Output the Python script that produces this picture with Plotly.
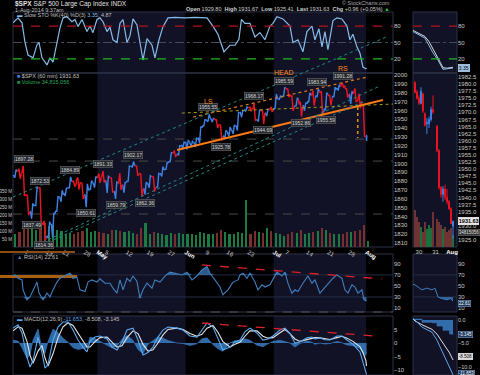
import numpy as np
import plotly.graph_objects as go

W, H = 480, 375
FONT = "Liberation Sans, Arial, sans-serif"

# ---------------- data ----------------
# trading-day index: 0 = 1-Apr-2014 ... 85 = 1-Aug-2014
TICK_DAY = [4, 9, 13, 18, 21, 23, 28, 33, 38, 42, 47, 52, 57, 63, 66, 71, 76, 81, 85]
TICK_TEXT = ["7", "14", "21", "28", "May", "5", "12", "19", "27", "Jun", "9", "16", "23",
             "Jul", "7", "14", "21", "28", "Aug"]

OPEN = [1873.96, 1886.61, 1891.43, 1890.25, 1863.92, 1845.48, 1852.64, 1872.28, 1830.65,
        1818.18, 1831.45, 1846.01, 1861.73, 1865.79, 1872.57, 1879.32, 1881.97, 1877.72,
        1865.00, 1870.78, 1877.10, 1884.39, 1885.30, 1879.45, 1883.69, 1868.53, 1877.39, 1875.27,
        1880.03, 1896.75, 1897.13, 1888.16, 1871.19, 1876.66, 1884.88, 1873.34, 1888.19, 1893.32,
        1902.01, 1911.77, 1910.60, 1920.33, 1923.87, 1923.07, 1923.06, 1928.52, 1942.41,
        1948.97, 1950.34, 1949.37, 1943.35, 1930.80, 1934.84, 1937.15, 1942.73, 1957.50, 1960.45,
        1962.92, 1961.97, 1949.27, 1959.89, 1956.56, 1960.79, 1962.29, 1973.06, 1975.88,
        1984.22, 1976.39, 1965.10, 1966.67, 1965.76, 1969.86, 1977.36, 1976.35, 1979.75, 1961.54,
        1976.93, 1975.65, 1985.32, 1988.07, 1984.60, 1978.25, 1980.03, 1973.21, 1965.14, 1929.80]
HIGH = [1885.84, 1893.17, 1893.80, 1897.28, 1864.04, 1854.95, 1872.43, 1872.53, 1835.07,
        1834.19, 1844.02, 1862.31, 1869.63, 1871.89, 1884.89, 1879.75, 1884.06, 1877.72,
        1877.01, 1880.60, 1885.20, 1888.59, 1891.33, 1885.51, 1883.69, 1878.83, 1889.07, 1878.57,
        1897.13, 1902.17, 1897.13, 1888.16, 1878.28, 1886.00, 1884.88, 1888.80, 1896.33, 1901.26,
        1912.28, 1914.46, 1920.03, 1924.03, 1925.88, 1925.07, 1928.63, 1941.74, 1949.44,
        1955.55, 1950.86, 1949.37, 1943.35, 1937.30, 1941.15, 1943.69, 1957.74, 1959.87, 1963.91,
        1963.74, 1968.17, 1960.83, 1959.89, 1961.47, 1964.24, 1978.58, 1976.67, 1985.59,
        1984.22, 1976.39, 1974.15, 1969.84, 1968.67, 1979.85, 1982.52, 1983.94, 1981.80, 1979.91,
        1976.93, 1986.24, 1989.23, 1991.28, 1984.60, 1981.52, 1984.85, 1978.90, 1965.14, 1931.67]
LOW = [1873.96, 1883.79, 1882.65, 1863.26, 1841.48, 1837.49, 1852.38, 1830.87, 1814.36,
       1815.80, 1816.29, 1846.01, 1856.72, 1863.18, 1872.57, 1873.91, 1870.24, 1859.70,
       1850.61, 1870.78, 1872.69, 1878.04, 1878.50, 1866.77, 1867.72, 1859.79, 1870.05, 1867.02,
       1880.03, 1896.06, 1885.77, 1862.36, 1864.82, 1872.42, 1868.14, 1873.34, 1885.39, 1893.32,
       1902.01, 1907.30, 1909.82, 1916.64, 1915.98, 1918.79, 1918.60, 1922.93, 1942.41,
       1947.16, 1946.87, 1940.08, 1925.78, 1927.69, 1930.91, 1933.55, 1937.22, 1952.26, 1959.17,
       1958.89, 1948.34, 1947.49, 1944.69, 1953.43, 1958.22, 1962.29, 1972.58, 1975.88,
       1974.88, 1959.46, 1965.10, 1952.86, 1959.63, 1969.86, 1965.34, 1975.67, 1955.59, 1960.82,
       1965.77, 1975.65, 1982.44, 1985.79, 1974.37, 1967.31, 1969.95, 1962.42, 1930.67, 1925.41]
CLOSE = [1885.52, 1890.90, 1888.77, 1865.09, 1845.04, 1851.96, 1872.18, 1833.08, 1815.69,
         1830.61, 1842.98, 1862.31, 1864.85, 1871.89, 1879.55, 1875.39, 1878.61, 1863.40,
         1869.43, 1878.33, 1883.95, 1883.68, 1881.14, 1884.66, 1867.72, 1878.21, 1875.63, 1878.48,
         1896.65, 1897.45, 1888.53, 1870.85, 1877.86, 1885.08, 1872.83, 1888.03, 1892.49, 1900.53,
         1911.91, 1909.78, 1920.03, 1923.57, 1924.97, 1924.24, 1927.88, 1940.46, 1949.44,
         1951.27, 1950.79, 1943.89, 1930.11, 1936.16, 1937.78, 1941.99, 1956.98, 1959.48, 1962.87,
         1962.61, 1949.98, 1959.53, 1957.22, 1960.96, 1960.23, 1973.32, 1974.62, 1985.44,
         1977.65, 1963.71, 1972.83, 1964.68, 1967.57, 1977.10, 1973.28, 1981.57, 1958.12, 1978.22,
         1973.63, 1983.53, 1987.01, 1987.98, 1978.34, 1978.91, 1969.95, 1970.07, 1930.67, 1931.63]
VOLUME_M = [90, 85, 95, 120, 130, 120, 110, 140, 150, 130, 140, 110, 100, 80, 90, 85, 95, 100,
            120, 95, 100, 95, 90, 85, 105, 110, 100, 95, 100, 90, 85, 120, 150, 80, 95, 90, 85, 75,
            90, 85, 90, 80, 80, 85, 75, 95, 90, 85, 80, 90, 110, 95, 80, 85, 95, 90, 300,
            85, 100, 95, 90, 120, 100, 90, 80, 70, 85, 95, 90, 110, 85, 90, 95, 100, 120, 110,
            90, 85, 80, 85, 95, 95, 100, 110, 140, 35]
VOLUME_TICKS_M = [50, 100, 150, 200, 250, 300, 350]

STO_DAY = [0.90, 2.10, 3.05, 3.76, 4.48, 5.67, 6.62, 7.10, 7.81, 9.00,
           9.71, 10.43, 11.38, 12.10, 12.81, 13.76, 14.95, 15.67, 16.38, 17.33,
           18.52, 19.24, 19.95, 20.90, 21.62, 22.33, 23.29, 24.00, 24.71, 25.67,
           26.38, 27.10, 28.05, 28.76, 29.48, 30.43, 31.14, 31.86, 32.81, 34.00,
           34.71, 35.67, 36.62, 37.81, 39.48, 41.86, 44.24, 47.10, 48.52, 49.71,
           51.14, 52.57, 53.76, 54.70, 55.30, 56.14, 57.33, 58.52, 59.71, 60.90, 62.10,
           62.81, 63.76, 65.19, 66.86, 67.57, 68.76, 69.95, 70.90, 72.10, 72.81,
           73.76, 74.48, 75.19, 75.90, 77.10, 78.05, 79.24, 80.43, 81.14, 81.86,
           82.81, 83.52, 84.24, 84.95, 85.10]
STO_K = [86, 95, 86, 50, 27, 22, 46, 50, 22, 9,
         22, 14, 50, 77, 95, 97, 88, 92, 79, 92,
         70, 80, 68, 92, 95, 88, 70, 78, 55, 50,
         85, 92, 50, 62, 93, 82, 50, 18, 57, 45,
         22, 55, 79, 95, 96, 95, 96, 95, 80, 65,
         33, 45, 45, 56, 92, 85, 85, 60, 68, 55, 80,
         85, 97, 93, 80, 50, 55, 33, 70, 80, 55,
         75, 42, 70, 37, 90, 95, 93, 80, 55, 65,
         42, 31, 5, 2, 3.35]

RSI_DAY = [0.90, 1.38, 2.10, 3.05, 3.29, 4.24, 4.95, 5.67, 6.62, 7.10, 8.05, 9.00, 9.71, 10.43,
           11.38, 12.10, 13.29, 14.48, 15.19, 16.14, 16.86, 18.05, 18.76, 19.71, 20.90, 21.62,
           22.81, 24.00, 24.71, 25.67, 26.38, 27.10, 28.05, 28.76, 29.48, 30.43, 31.14, 31.86,
           32.81, 34.00, 34.71, 35.90, 37.10, 38.29, 39.95, 41.14, 42.33, 43.52, 44.71, 45.90,
           47.10, 47.81, 49.00, 50.19, 50.90, 52.10, 53.29, 54.48, 54.95, 55.67, 56.62, 57.33,
           58.52, 59.24, 60.19, 60.90, 62.10, 62.81, 63.76, 64.95, 65.67, 66.38, 67.33, 68.05,
           68.76, 69.95, 71.14, 72.10, 72.81, 74.00, 74.71, 75.90, 77.10, 78.05, 79.24, 79.95,
           80.67, 81.62, 82.33, 83.05, 84.00, 84.48, 85.10]
RSI_VAL = [68, 70, 64, 61, 43, 25, 30, 43, 57, 37, 25, 37, 30, 43,
           57, 64, 68, 73, 64, 66, 43, 40, 57, 61, 57, 63,
           55, 55, 46, 37, 61, 43, 64, 58, 68, 58, 28, 43,
           55, 46, 61, 57, 68, 75, 72, 70, 75, 61, 68, 79,
           85, 73, 61, 48, 34, 43, 57, 61, 70, 73, 64, 73,
           57, 43, 52, 48, 52, 61, 75, 68, 75, 55, 37, 43,
           40, 55, 68, 55, 61, 37, 43, 55, 64, 70, 64, 43,
           37, 52, 48, 37, 43, 25, 22.61]

MACD_DAY = [0.90, 2.10, 3.05, 4.24, 4.95, 5.67, 6.86, 7.81, 8.52, 9.24,
            10.43, 11.62, 12.81, 14.00, 15.19, 16.38, 17.57, 18.52, 19.24, 20.43,
            21.62, 23.29, 24.48, 25.67, 26.86, 28.05, 29.48, 30.67, 31.86, 33.05,
            34.24, 35.43, 36.62, 37.81, 39.95, 41.38, 43.05, 44.71, 45.90, 47.10,
            48.52, 49.71, 50.90, 52.57, 53.76, 54.95, 56.14, 57.33, 59.00, 60.43,
            61.62, 62.81, 64.48, 65.67, 66.86, 68.05, 69.24, 70.90, 72.10, 72.81,
            74.00, 75.19, 76.38, 78.05, 79.24, 80.43, 81.86, 83.52, 84.24, 84.95, 85.10]
MACD_LINE = [5.5, 6.7, 3.7, -5.2, -8.9, -6.5, 2.2, -3.7, -9.3, -8.0,
             1.1, 5.9, 7.8, 7.8, 4.8, 1.1, -1.5, -3.3, 0.7, 2.2,
             2.6, 1.5, -1.5, -2.6, 0.4, 4.8, 5.5, 1.1, -4.4, -3.5,
             -1.5, 2.2, 4.8, 5.9, 5.5, 4.8, 2.6, 2.2, 4.8, 7.4,
             5.9, 1.9, -2.6, -1.5, 0.4, 1.1, 4.1, 5.5, 3.7, 1.1,
             1.5, 2.6, 4.8, 5.5, 3.5, 0.0, 0.4, 1.9, 2.2, 1.5,
             1.9, 1.2, 1.1, 2.6, 2.6, 1.1, -0.4, -3.3, -7.4, -11.1, -11.65]
MACD_SIGNAL = [4.5, 6.0, 5.5, 0.5, -4.5, -7.5, -3.0, -1.0, -5.5, -8.5,
               -4.0, 2.0, 6.0, 7.5, 6.5, 3.5, 0.5, -1.5, -1.5, 0.5,
               2.0, 2.2, 0.3, -1.5, -1.0, 2.0, 4.5, 3.5, -0.5, -3.0,
               -2.5, 0.0, 3.0, 5.0, 5.5, 5.0, 3.5, 2.5, 3.2, 5.5,
               6.5, 4.0, 0.5, -1.5, -0.5, 0.3, 2.5, 4.5, 4.5, 2.5,
               1.8, 2.0, 3.8, 5.0, 3.5, 1.5, 0.6, 1.2, 1.9, 2.0,
               1.9, 1.6, 1.3, 2.0, 2.5, 1.8, 0.6, -1.3, -3.5, -6.5, -8.5]

SWING_DAY = [3, 5, 7, 8, 14, 18, 22, 25, 29, 32, 47, 50, 58, 60, 65, 69, 73, 75, 79]
SWING_PRICE = [1897.28, 1837.49, 1872.53, 1814.36, 1884.89, 1850.61, 1891.33, 1859.79, 1902.17,
               1862.36, 1955.55, 1925.78, 1968.17, 1944.69, 1985.59, 1952.86, 1983.94, 1955.59,
               1991.28]
SWING_SIDE = ["H", "L", "H", "L", "H", "L", "H", "L", "H", "L", "H", "L", "H", "L", "H", "L",
              "H", "L", "H"]
PATTERN_TEXT = ["LS", "HEAD", "RS"]
PATTERN_DAY = [47, 65, 79]
PATTERN_PRICE = [1955.55, 1985.59, 1991.28]
MONTH_SHADE = [(21, 42), (63, 85)]

# drawn trend lines (day, price) pairs on the price panel
TRENDLINES = [
    (40.0, 1915.2, 89.0, 1971.7, "#ff7a12", "solid", 2.0),   # neckline
    (43.8, 1952.5, 85.2, 1997.7, "#d9791f", "dot", 1.2),
    (41.1, 1957.0, 91.4, 1967.2, "#a89a1c", "dot", 1.0),
    (0.9, 1862.0, 89.9, 2043.0, "#1b8a8a", "dot", 1.0),
    (8.05, 1811.1, 88.3, 1987.6, "#1b8a8a", "dot", 1.0),
    (6.62, 1805.4, 84.7, 1970.6, "#1b8a8a", "dot", 1.0),
    (83.0, 1963.8, 83.0, 1928.7, "#d98a20", "dot", 1.6),
]
STO_TEAL = (68.0, -12.1, 89.95, 60.5)
RSI_TREND = (45.9, 88.2, 88.8, 62.7)
MACD_TREND = (45.9, 7.4, 87.1, 2.6)
PRICE_DASH_LEVELS = [1927.6, 1902.7, 1842.8]

# mini chart (days from 30-Jul open)
MINI_DAY = [-0.24, -0.12, 0.0, 0.12, 0.24, 0.36, 0.48, 0.61, 0.73, 0.85, 1.09, 1.21, 1.33,
            1.45, 1.58, 1.70, 1.82, 1.94, 2.06]
MINI_O = [1980.5, 1977.2, 1975.0, 1973.2, 1976.5, 1969.5, 1966.0, 1966.0, 1967.5, 1971.0,
          1965.1, 1956.5, 1943.5, 1941.0, 1943.0, 1940.0, 1938.5, 1936.0, 1929.8]
MINI_H = [1981.0, 1978.0, 1976.0, 1978.9, 1977.0, 1970.0, 1968.0, 1968.5, 1972.0, 1976.0,
          1965.5, 1957.0, 1944.0, 1944.0, 1944.5, 1943.0, 1939.0, 1936.5, 1931.67]
MINI_L = [1976.8, 1974.5, 1972.6, 1972.8, 1969.8, 1965.0, 1962.4, 1964.5, 1966.8, 1969.5,
          1956.0, 1942.7, 1939.9, 1938.5, 1939.0, 1937.5, 1935.6, 1930.67, 1925.41]
MINI_C = [1977.0, 1975.0, 1973.2, 1977.5, 1970.5, 1965.5, 1966.5, 1967.5, 1971.0, 1970.1,
          1956.5, 1943.5, 1941.0, 1943.0, 1940.0, 1938.5, 1936.0, 1930.67, 1931.63]
MINI_VOL = [100, 80, 68, 55, 40, 68, 48, 60, 50, 95, 75, 68, 60, 48, 54, 40, 45, 52, 32]
MINI_PRICE_TICKS = [1925.0 + 2.5 * k for k in range(24) if k not in (1, 3)]
MINI_TICK_DAY = [0, 1, 2]
MINI_TICK_TEXT = ["30", "31", "Aug"]
MINI_STO_DAY = [-0.36, -0.24, 0.0, 0.36, 0.6, 0.85, 1.15, 1.3, 1.45, 1.7, 2.06]
MINI_STO_K = [70, 68, 64, 58, 45, 31, 18, 8, 1, 2, 3.35]
MINI_STO_D = [72, 70, 67, 61, 52, 38, 24, 13, 4, 3, 4.87]
MINI_RSI_DAY = [-0.36, -0.24, 0.18, 0.48, 0.79, 0.97, 1.15, 1.4, 1.7, 1.9, 2.06]
MINI_RSI = [53, 52, 43, 46, 43, 46, 30, 27, 25, 27, 22.61]
MINI_RSI_TICKS = [10, 30, 50, 70, 90]
MINI_MACD_DAY = [-0.36, -0.24, 0.18, 0.79, 1.09, 1.45, 1.85, 2.06]
MINI_MACD = [0.3, 0.0, -1.5, -2.6, -4.3, -7.0, -10.0, -11.65]
MINI_SIGNAL = [0.2, -0.2, -1.0, -2.0, -3.0, -4.8, -7.0, -8.5]
MINI_MACD_TICKS = [0, -5, -10]

# ---------------- styling ----------------
BG = "#000000"
SHADE = "#121226"
BORDER = "#2c3346"
UP = "#3d82e6"
DN = "#ec1420"
TXT = "#c8c8c8"
tickfont = dict(size=6, color=TXT, family=FONT)


def pdom(top_px, bot_px):
    return [1 - bot_px / H, 1 - top_px / H]


X_MAIN = [13 / W, 393 / W]
X_MINI = [413 / W, 457 / W]
D_STO, D_PRICE, D_RSI, D_MACD = pdom(12, 73), pdom(73, 247), pdom(254, 312), pdom(316, 375)

fig = go.Figure()

# ---- main volume (base axis y) ----
vol_col = ["#1d7a42" if c >= o else "#7a2f2f" for o, c in zip(OPEN, CLOSE)]
fig.add_trace(go.Bar(x=[i + 0.45 for i in range(len(VOLUME_M))], y=VOLUME_M, width=0.5,
                     marker=dict(color=vol_col, line=dict(width=0)), xaxis="x", yaxis="y",
                     hoverinfo="skip"))

# ---- main price path (O->H/L->L/H->C per day) ----
n = len(OPEN)
ux, uy, dx, dy = [], [], [], []
for i in range(n):
    w = 0.15 if i == n - 1 else 0.85
    xs = [i + 0.05 + w * k / 3 for k in range(4)]
    o, h, l, c = OPEN[i], HIGH[i], LOW[i], CLOSE[i]
    ys = [o, l, h, c] if c >= o else [o, h, l, c]
    if i > 0:
        xs = [i - 0.1] + xs
        ys = [CLOSE[i - 1]] + ys
    if c >= o:
        ux += xs + [None]; uy += ys + [None]
    else:
        dx += xs + [None]; dy += ys + [None]
fig.add_trace(go.Scatter(x=ux, y=uy, mode="lines", line=dict(color=UP, width=1.4),
                         xaxis="x", yaxis="y2", hoverinfo="skip", connectgaps=False))
fig.add_trace(go.Scatter(x=dx, y=dy, mode="lines", line=dict(color=DN, width=1.4),
                         xaxis="x", yaxis="y2", hoverinfo="skip", connectgaps=False))

# ---- STO ----
fig.add_trace(go.Scatter(x=STO_DAY, y=STO_K, mode="lines", line=dict(color="#86bbe8", width=1.2),
                         xaxis="x", yaxis="y3", hoverinfo="skip"))

# ---- RSI ----
rsi = np.array(RSI_VAL, dtype=float)
for base, clipped in ((70, np.maximum(rsi, 70)), (30, np.minimum(rsi, 30))):
    fig.add_trace(go.Scatter(x=RSI_DAY, y=np.full_like(rsi, base), mode="lines",
                             line=dict(width=0), xaxis="x", yaxis="y4", hoverinfo="skip"))
    fig.add_trace(go.Scatter(x=RSI_DAY, y=clipped, mode="lines", line=dict(width=0),
                             fill="tonexty", fillcolor="rgba(60,120,185,0.75)",
                             xaxis="x", yaxis="y4", hoverinfo="skip"))
fig.add_trace(go.Scatter(x=RSI_DAY, y=RSI_VAL, mode="lines", line=dict(color="#3f7fbf", width=1.1),
                         xaxis="x", yaxis="y4", hoverinfo="skip"))

# ---- MACD ----
hist = np.array(MACD_LINE) - np.array(MACD_SIGNAL)
fig.add_trace(go.Scatter(x=MACD_DAY, y=hist, mode="lines", fill="tozeroy",
                         fillcolor="rgba(55,125,195,0.85)", line=dict(color="#3a80c6", width=0.6),
                         xaxis="x", yaxis="y5", hoverinfo="skip"))
fig.add_trace(go.Scatter(x=MACD_DAY, y=MACD_SIGNAL, mode="lines", line=dict(color="#e6e6e6", width=1.1),
                         xaxis="x", yaxis="y5", hoverinfo="skip"))
fig.add_trace(go.Scatter(x=MACD_DAY, y=MACD_LINE, mode="lines", line=dict(color="#5aaaf0", width=1.1),
                         xaxis="x", yaxis="y5", hoverinfo="skip"))

# ---- mini chart ----
mvol_col = ["#1d6e3c" if c >= o else "#6e3434" for o, c in zip(MINI_O, MINI_C)]
fig.add_trace(go.Bar(x=MINI_DAY, y=MINI_VOL, width=0.1, marker=dict(color=mvol_col, line=dict(width=0)),
                     xaxis="x2", yaxis="y6", hoverinfo="skip"))
fig.add_trace(go.Candlestick(x=MINI_DAY, open=MINI_O, high=MINI_H, low=MINI_L, close=MINI_C,
                             increasing=dict(line=dict(color=UP, width=1), fillcolor=UP),
                             decreasing=dict(line=dict(color=DN, width=1), fillcolor=DN),
                             whiskerwidth=0, xaxis="x2", yaxis="y7", hoverinfo="skip"))
fig.add_trace(go.Scatter(x=MINI_STO_DAY, y=MINI_STO_D, mode="lines", line=dict(color="#dddddd", width=1),
                         xaxis="x2", yaxis="y8", hoverinfo="skip"))
fig.add_trace(go.Scatter(x=MINI_STO_DAY, y=MINI_STO_K, mode="lines", line=dict(color="#86bbe8", width=1),
                         xaxis="x2", yaxis="y8", hoverinfo="skip"))
mrsi = np.array(MINI_RSI, dtype=float)
fig.add_trace(go.Scatter(x=MINI_RSI_DAY, y=np.full_like(mrsi, 30), mode="lines", line=dict(width=0),
                         xaxis="x2", yaxis="y9", hoverinfo="skip"))
fig.add_trace(go.Scatter(x=MINI_RSI_DAY, y=np.minimum(mrsi, 30), mode="lines", line=dict(width=0),
                         fill="tonexty", fillcolor="rgba(60,120,185,0.75)", xaxis="x2", yaxis="y9",
                         hoverinfo="skip"))
fig.add_trace(go.Scatter(x=MINI_RSI_DAY, y=MINI_RSI, mode="lines", line=dict(color="#3f7fbf", width=1),
                         xaxis="x2", yaxis="y9", hoverinfo="skip"))
mhist = np.array(MINI_MACD) - np.array(MINI_SIGNAL)
fig.add_trace(go.Scatter(x=MINI_MACD_DAY, y=mhist, mode="lines", line=dict(color="#3a80c6", width=0.5, shape="hv"),
                         fill="tozeroy", fillcolor="rgba(55,125,195,0.85)", xaxis="x2", yaxis="y10",
                         hoverinfo="skip"))
fig.add_trace(go.Scatter(x=MINI_MACD_DAY, y=MINI_SIGNAL, mode="lines", line=dict(color="#dddddd", width=1),
                         xaxis="x2", yaxis="y10", hoverinfo="skip"))
fig.add_trace(go.Scatter(x=MINI_MACD_DAY, y=MINI_MACD, mode="lines", line=dict(color="#5aaaf0", width=1),
                         xaxis="x2", yaxis="y10", hoverinfo="skip"))

# ---------------- shapes ----------------
shapes = []
for a, b in MONTH_SHADE:
    for ya in ["y", "y3", "y4", "y5"]:
        shapes.append(dict(type="rect", xref="x", yref=f"{ya} domain", x0=a, x1=b, y0=0, y1=1,
                           fillcolor=SHADE, line=dict(width=0), layer="below"))
for ya in ["y6", "y8", "y9", "y10"]:
    shapes.append(dict(type="rect", xref="x2 domain", yref=f"{ya} domain", x0=0, x1=1, y0=0, y1=1,
                       fillcolor=SHADE, line=dict(width=0), layer="below"))
for xa, yas in (("x", ["y", "y3", "y4", "y5"]), ("x2", ["y6", "y8", "y9", "y10"])):
    for ya in yas:
        shapes.append(dict(type="rect", xref=f"{xa} domain", yref=f"{ya} domain", x0=0, x1=1, y0=0, y1=1,
                           line=dict(color=BORDER, width=1), fillcolor="rgba(0,0,0,0)", layer="below"))
# STO levels
for ya, xa in (("y3", "x"), ("y8", "x2")):
    shapes.append(dict(type="line", xref=f"{xa} domain", yref=ya, x0=0, x1=1, y0=80, y1=80,
                       line=dict(color="#b3121c", width=1.2, dash="dash")))
    shapes.append(dict(type="line", xref=f"{xa} domain", yref=ya, x0=0, x1=1, y0=20, y1=20,
                       line=dict(color="#1fb81f", width=1.2, dash="dash")))
    shapes.append(dict(type="line", xref=f"{xa} domain", yref=ya, x0=0, x1=1, y0=50, y1=50,
                       line=dict(color="#444a58", width=1, dash="dashdot"), layer="below"))
for ya, xa in (("y4", "x"), ("y9", "x2")):
    for lv in (70, 30):
        shapes.append(dict(type="line", xref=f"{xa} domain", yref=ya, x0=0, x1=1, y0=lv, y1=lv,
                           line=dict(color="#252c44", width=1), layer="below"))
shapes.append(dict(type="line", xref="x domain", yref="y4 domain", x0=0, x1=1, y0=0, y1=0,
                   line=dict(color="#555", width=1, dash="dash")))
for lv in PRICE_DASH_LEVELS:
    shapes.append(dict(type="line", xref="x domain", yref="y2", x0=0, x1=1, y0=lv, y1=lv,
                       line=dict(color="#4a4a4a", width=1, dash="dash"), layer="below"))
for d0, p0, d1, p1, col, dash, wd in TRENDLINES:
    shapes.append(dict(type="line", xref="x", yref="y2", x0=d0, y0=p0, x1=d1, y1=p1,
                       line=dict(color=col, width=wd, dash=dash)))
shapes.append(dict(type="line", xref="x", yref="y3", x0=STO_TEAL[0], y0=STO_TEAL[1], x1=STO_TEAL[2],
                   y1=STO_TEAL[3], line=dict(color="#1b8a8a", width=1, dash="dot")))
shapes.append(dict(type="line", xref="x", yref="y4", x0=RSI_TREND[0], y0=RSI_TREND[1], x1=RSI_TREND[2],
                   y1=RSI_TREND[3], line=dict(color="#e0202a", width=1.3, dash="dash")))
shapes.append(dict(type="line", xref="x", yref="y5", x0=MACD_TREND[0], y0=MACD_TREND[1], x1=MACD_TREND[2],
                   y1=MACD_TREND[3], line=dict(color="#e0202a", width=1.3, dash="dash")))
# orange marker bars at far left
shapes.append(dict(type="rect", xref="paper", yref="paper", x0=0, x1=75 / W, y0=1 - 253 / H, y1=1 - 251 / H,
                   fillcolor="#8a4c12", line=dict(width=0)))
shapes.append(dict(type="rect", xref="paper", yref="paper", x0=0, x1=77 / W, y0=1 - 278 / H, y1=1 - 275 / H,
                   fillcolor="#a8600f", line=dict(width=0), layer="below"))

# ---------------- annotations ----------------
ann = []


def note(px, py, text, size=6, color=TXT, anchor="left", **kw):
    d = dict(x=px / W, y=1 - py / H, xref="paper", yref="paper", text=text, showarrow=False,
             xanchor=anchor, yanchor="middle", font=dict(size=size, color=color, family=FONT))
    d.update(kw)
    return d


ann.append(note(13, 4, "<b>$SPX</b> S&P 500 Large Cap Index INDX", 6.5, "#e0e0e0"))
ann.append(note(13, 10, "1-Aug-2014 9:37am", 5.5, "#bdbdbd"))
ann.append(note(392, 3, "© StockCharts.com", 5.5, "#a8a8a8", "right"))
ann.append(note(392, 9, "<b>Open</b> 1929.80  <b>High</b> 1931.67  <b>Low</b> 1925.41  "
                         "<b>Last</b> 1931.63  <b>Chg</b> +0.96 (+0.05%) "
                         "<span style='color:#22cc22'>▲</span>", 5.5, "#d0d0d0", "right"))
ann.append(note(15, 15, "<span style='color:#86bbe8'>▬</span> Slow STO %K(40) %D(3) "
                          "<span style='color:#86bbe8'>3.35</span>, 4.87", 5.5, "#c0c0c0"))
ann.append(note(15, 76, "<span style='color:#3d82e6'>■</span> $SPX (60 min) 1931.63", 5.5, "#c0c0c0"))
ann.append(note(15, 82, "<span style='color:#1d9a52'>■</span> <span style='color:#2aa85a'>Volume 34,815,056</span>",
                5.5, "#c0c0c0"))
ann.append(note(15, 257, "<span style='color:#3f7fbf'>▲</span> RSI(14) 22.61", 5.5, "#c0c0c0"))
ann.append(note(15, 319, "<span style='color:#5aaaf0'>▬</span> MACD(12,26,9) "
                          "<span style='color:#5aaaf0'>-11.653</span>, -8.508, -3.145", 5.5, "#c0c0c0"))

for d, p, s in zip(SWING_DAY, SWING_PRICE, SWING_SIDE):
    ann.append(dict(x=d + 0.4, y=p, xref="x", yref="y2", text=f"{p:.2f}", showarrow=False,
                    yshift=7 if s == "H" else -6, font=dict(size=5, color="#d4d4d4", family=FONT),
                    bgcolor="#26292f", bordercolor="#707070", borderwidth=0.5, borderpad=0.5))
for t, d, p, sh in zip(PATTERN_TEXT, PATTERN_DAY, PATTERN_PRICE, [13, 15, 14]):
    ann.append(dict(x=d + 0.4, y=p, xref="x", yref="y2", text=t, showarrow=False, yshift=sh,
                    font=dict(size=7, color="#ff8a1a", family=FONT)))

# right-side value boxes for mini chart
box = dict(borderwidth=0.5, borderpad=0.3)
ann.append(note(458, 68, "3.35", 5, "#000", bgcolor="#9cc4e8", bordercolor="#cfe3f5", **box))
ann.append(note(458, 221, "<b>1931.63</b>", 5.5, "#000", bgcolor="#e8e8e8", bordercolor="#ffffff", **box))
ann.append(note(458, 233, "34815056", 4.5, "#ddd", bgcolor="#333", bordercolor="#777", **box))
ann.append(note(458, 303, "22.61", 4.5, "#fff", bgcolor="#1f3a5c", bordercolor="#88aadd", **box))
ann.append(note(458, 334, "-3.145", 4.5, "#fff", bgcolor="#1f3a5c", bordercolor="#88aadd", **box))
ann.append(note(458, 356, "-8.508", 4.5, "#000", bgcolor="#dddddd", bordercolor="#fff", **box))
ann.append(note(458, 373, "-11.653", 4.5, "#fff", bgcolor="#1f3a5c", bordercolor="#88aadd", **box))

# ---------------- axes ----------------
common = dict(showgrid=False, zeroline=False, showline=False, ticks="", automargin=False,
              fixedrange=True, tickfont=tickfont)


def bold_month(t):
    return f"<span style='color:#ffffff'><b>{t}</b></span>" if t.isalpha() else t


vol_axis = dict(common)
vol_axis["tickfont"] = dict(size=4.5, color=TXT, family=FONT)
mini_macd_axis = dict(common)
mini_macd_axis["tickfont"] = dict(size=5.5, color=TXT, family=FONT)

layout = dict(
    width=W, height=H, margin=dict(l=0, r=0, t=0, b=0), template="none",
    paper_bgcolor=BG, plot_bgcolor=BG, showlegend=False, hovermode=False,
    shapes=shapes, annotations=ann, bargap=0,
    xaxis=dict(domain=X_MAIN, range=[0.9, 91.4], anchor="y", tickvals=TICK_DAY,
               ticktext=[bold_month(t) for t in TICK_TEXT], rangeslider=dict(visible=False), **common),
    xaxis2=dict(domain=X_MINI, range=[-0.36, 2.3], anchor="y6", tickvals=MINI_TICK_DAY,
                ticktext=[bold_month(t) for t in MINI_TICK_TEXT], rangeslider=dict(visible=False), **common),
    yaxis=dict(domain=D_PRICE, range=[0, 1100], side="left", anchor="x",
               tickvals=VOLUME_TICKS_M, ticktext=[f"{v} M" for v in VOLUME_TICKS_M], **vol_axis),
    yaxis2=dict(overlaying="y", range=[1805.5, 2002.3], side="right", anchor="x",
                tickvals=list(range(1810, 2001, 10)), **common),
    yaxis3=dict(domain=D_STO, range=[-5.7, 105.7], side="right", anchor="x", tickvals=[20, 50, 80], **common),
    yaxis4=dict(domain=D_RSI, range=[2.7, 108], side="right", anchor="x", tickvals=[10, 30, 50, 70, 90], **common),
    yaxis5=dict(domain=D_MACD, range=[-11.85, 10], side="right", anchor="x", tickvals=[-10, -5, 0, 5], **common),
    yaxis6=dict(domain=D_PRICE, range=[0, 470], anchor="x2", visible=False, **common),
    yaxis7=dict(overlaying="y6", range=[1922.5, 1983.9], side="right", anchor="x2",
                tickvals=MINI_PRICE_TICKS, tickformat=".1f", **common),
    yaxis8=dict(domain=D_STO, range=[-5.7, 105.7], side="right", anchor="x2", tickvals=[20, 50, 80], **common),
    yaxis9=dict(domain=D_RSI, range=[2.7, 108], side="right", anchor="x2", tickvals=MINI_RSI_TICKS, **common),
    yaxis10=dict(domain=D_MACD, range=[-11.7, 0.85], side="right", anchor="x2",
                 tickvals=MINI_MACD_TICKS, tickformat=".1f", **mini_macd_axis),
)
fig.update_layout(**layout)
fig.write_html("out.html", config=dict(displayModeBar=False, staticPlot=True),
               post_script="document.body.style.margin='0';document.body.style.overflow='hidden';")
